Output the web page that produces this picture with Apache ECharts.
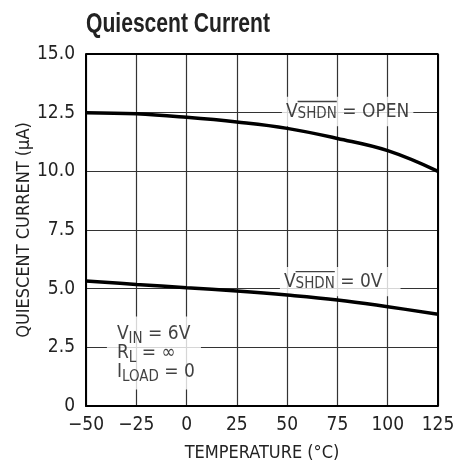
<!DOCTYPE html>
<html>
<head>
<meta charset="utf-8">
<script src="https://cdn.jsdelivr.net/npm/echarts@6/dist/echarts.min.js"></script>
<style>
  html, body { margin: 0; padding: 0; background: #fff; }
  #chart { width: 465px; height: 462px; }
</style>
</head>
<body>
<div id="chart"></div>
<script>
// temperatures (°C) and quiescent current (µA)
var temps = [-50, -25, 0, 25, 50, 75, 100, 125];
var iqOpen = [12.5, 12.45, 12.3, 12.1, 11.83, 11.4, 10.88, 10.0];
var iq0V = [5.33, 5.18, 5.04, 4.9, 4.73, 4.52, 4.23, 3.91];

var FONT = '"DejaVu Sans Condensed", "DejaVu Sans", sans-serif';
var TITLE_FONT = '"Liberation Sans", Arial, sans-serif';

function pairs(xs, ys) {
    return xs.map(function (x, i) { return [x, ys[i]]; });
}

function textWidth(str, font) {
    var ctx = document.createElement('canvas').getContext('2d');
    ctx.font = font;
    return ctx.measureText(str).width;
}

// overline over SHDN: a thin bar on its own short line above the text
var shdnW = textWidth('SHDN', '15px "DejaVu Sans Condensed"');
var vW = textWidth('V', '19px "DejaVu Sans Condensed"');
var rich = {
    m: { fontSize: 19, fontFamily: FONT, color: '#111' },
    s: { fontSize: 15, fontFamily: FONT, color: '#111', padding: [10, 0, 0, 0] },
    mt: { fontSize: 19, fontFamily: FONT, color: '#111', verticalAlign: 'top', lineHeight: 19 },
    st: { fontSize: 15, fontFamily: FONT, color: '#111', verticalAlign: 'bottom', lineHeight: 19, padding: [4, 0, 0, 0] },
    gap: { width: vW, height: 1.3, lineHeight: 1.3 },
    ol: { width: shdnW, height: 1.3, lineHeight: 1.3, backgroundColor: '#111' }
};

// note labels, left edge placed in data coords
var notes = [
    { value: [47.4, 12.55], text: '{gap|}{ol|}\n{mt|V}{st|SHDN}{mt| = OPEN}', padding: [4, 4, 5, 4] },
    { value: [46.4, 5.3], text: '{gap|}{ol|}\n{mt|V}{st|SHDN}{mt| = 0V}', padding: [4, 18, 5, 4] },
    { value: [-39.6, 2.26], text: '{m|V}{s|IN}{m| = 6V}\n{m|R}{s|L}{m| = \u221E}\n{m|I}{s|LOAD}{m| = 0}', padding: [8, 6, 8, 10] }
];

var chart = echarts.init(document.getElementById('chart'));
var titleSize = 27;
var titleScale = 184 / textWidth('Quiescent Current', 'bold ' + titleSize + 'px "Liberation Sans"');

chart.setOption({
    animation: false,
    backgroundColor: '#fff',
    graphic: [{
        type: 'text', left: 86, top: 11, scaleX: titleScale,
        style: { text: 'Quiescent Current', font: 'bold ' + titleSize + 'px ' + TITLE_FONT, fill: '#222' }
    }],
    grid: { left: 86, right: 27, top: 54, bottom: 56, outerBoundsMode: 'none' },
    xAxis: {
        type: 'value', min: -50, max: 125, interval: 25,
        name: 'TEMPERATURE (\u00B0C)', nameLocation: 'middle', nameGap: 38, nameMoveOverlap: false,
        nameTextStyle: { fontFamily: FONT, fontSize: 18, color: '#222' },
        axisLine: { lineStyle: { color: '#000', width: 2 } },
        axisTick: { show: false },
        axisLabel: {
            fontFamily: FONT, fontSize: 19, color: '#222', margin: 10,
            formatter: function (v) { return String(v).replace('-', '\u2212'); }
        },
        splitLine: { show: true, lineStyle: { color: '#333', width: 1.2 } }
    },
    yAxis: {
        type: 'value', min: 0, max: 15, interval: 2.5,
        name: 'QUIESCENT CURRENT (\u00B5A)', nameLocation: 'middle', nameGap: 53, nameMoveOverlap: false,
        nameTextStyle: { fontFamily: FONT, fontSize: 18, color: '#222' },
        axisLine: { show: true, onZero: false, lineStyle: { color: '#000', width: 2 } },
        axisTick: { show: false },
        axisLabel: {
            fontFamily: FONT, fontSize: 19, color: '#222', margin: 11,
            formatter: function (v) { return v === 0 ? '0' : v.toFixed(1); }
        },
        splitLine: { show: true, lineStyle: { color: '#333', width: 1.2 } }
    },
    series: [
        {
            type: 'line', data: pairs(temps, iqOpen), smooth: 0.4, showSymbol: false, z: 3,
            lineStyle: { color: '#000', width: 3.5 }
        },
        {
            type: 'line', data: pairs(temps, iq0V), smooth: 0.4, showSymbol: false, z: 3,
            lineStyle: { color: '#000', width: 3.5 }
        },
        {
            type: 'scatter', symbolSize: 0, z: 1, silent: true,
            data: notes.map(function (n) {
                return {
                    value: n.value,
                    label: {
                        show: true, position: 'inside', formatter: n.text, rich: rich, align: 'left',
                        backgroundColor: '#fff', padding: n.padding, lineHeight: 19
                    }
                };
            })
        },
        // right and top border
        {
            type: 'line', data: [[125, 0], [125, 15], [-50, 15]], showSymbol: false, silent: true, z: 2,
            lineStyle: { color: '#000', width: 2 }
        }
    ]
});
</script>
</body>
</html>
